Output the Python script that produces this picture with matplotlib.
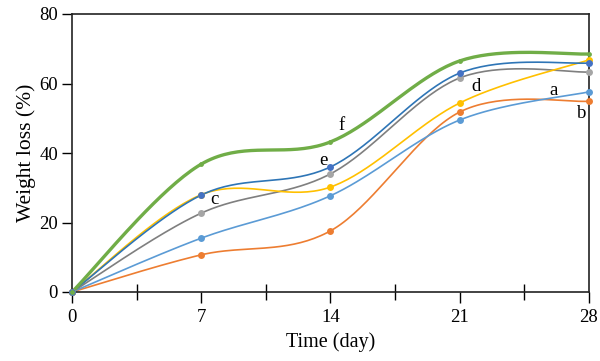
import numpy as np
import matplotlib
matplotlib.use('Agg')
import matplotlib.pyplot as plt

days = [0, 7, 14, 21, 28]
series_a = [0, 15.5, 27.7, 49.5, 57.6]
series_b = [0, 10.7, 17.6, 51.8, 54.9]
series_c = [0, 22.7, 34.0, 61.6, 63.3]
series_d = [0, 28.0, 30.2, 54.4, 66.8]
series_e = [0, 27.9, 36.0, 63.0, 65.9]
series_f = [0, 36.8, 43.2, 66.5, 68.5]

labels = ['a', 'b', 'c', 'd', 'e', 'f']
label_pos = [(26.1, 57.9), (27.6, 51.5), (7.7, 26.5), (21.9, 59.0), (13.6, 37.7), (14.6, 47.8)]

plt.rcParams['font.family'] = ['Liberation Serif', 'DejaVu Serif']


def smooth(x, y, n=40):
    # excel-like smoothed line (catmull-rom bezier)
    x = np.asarray(x, float)
    y = np.asarray(y, float)
    px = np.concatenate([[x[0]], x, [x[-1]]])
    py = np.concatenate([[y[0]], y, [y[-1]]])
    xs, ys = [], []
    t = np.linspace(0, 1, n)
    for i in range(1, len(px) - 2):
        p0 = np.array([px[i], py[i]])
        p3 = np.array([px[i + 1], py[i + 1]])
        p1 = p0 + (np.array([px[i + 1], py[i + 1]]) - np.array([px[i - 1], py[i - 1]])) / 6
        p2 = p3 - (np.array([px[i + 2], py[i + 2]]) - np.array([px[i], py[i]])) / 6
        b = ((1 - t) ** 3)[:, None] * p0 + (3 * (1 - t) ** 2 * t)[:, None] * p1 \
            + (3 * (1 - t) * t ** 2)[:, None] * p2 + (t ** 3)[:, None] * p3
        xs.extend(b[:, 0])
        ys.extend(b[:, 1])
    return xs, ys


fig = plt.figure(figsize=(6, 3.61), dpi=100)
ax = fig.add_axes([72 / 600, 1 - 292 / 361, 517 / 600, 278 / 361])

styles = [
    (series_b, '#ED7D31', '#ED7D31', 1.2, 5),
    (series_a, '#5B9BD5', '#5B9BD5', 1.2, 5),
    (series_c, '#7F7F7F', '#A5A5A5', 1.2, 5),
    (series_d, '#FFC000', '#FFC000', 1.2, 5),
    (series_e, '#2E75B6', '#4472C4', 1.2, 5),
    (series_f, '#70AD47', '#70AD47', 2.4, 3.5),
]
for vals, lc, mc, lw, ms in styles:
    sx, sy = smooth(days, vals)
    ax.plot(sx, sy, color=lc, lw=lw, zorder=2)
    ax.plot(days, vals, 'o', color=mc, ms=ms, mec='none', zorder=3, clip_on=False)

for lab, (lx, ly) in zip(labels, label_pos):
    ax.text(lx, ly, lab, fontsize=13.5, ha='center', va='center')

ax.set_xlim(0, 28)
ax.set_ylim(0, 80)
ax.set_xticks(days)
ax.set_xticks([3.5, 10.5, 17.5, 24.5], minor=True)
ax.set_yticks([0, 20, 40, 60, 80])
ax.tick_params(axis='x', which='major', direction='out', length=8, width=1, labelsize=13.5, pad=4)
ax.tick_params(axis='x', which='minor', direction='inout', length=11, width=1)
ax.tick_params(axis='y', direction='out', length=7, width=1, labelsize=13.5, pad=3)
for s in ax.spines.values():
    s.set_linewidth(1.2)
    s.set_color('#222222')

ax.set_xlabel('Time (day)', fontsize=14.5, labelpad=5)
ax.set_ylabel('Weight loss (%)', fontsize=15.5)
ax.yaxis.set_label_coords(-0.069, 0.5)

fig.savefig('out.png', dpi=100)
